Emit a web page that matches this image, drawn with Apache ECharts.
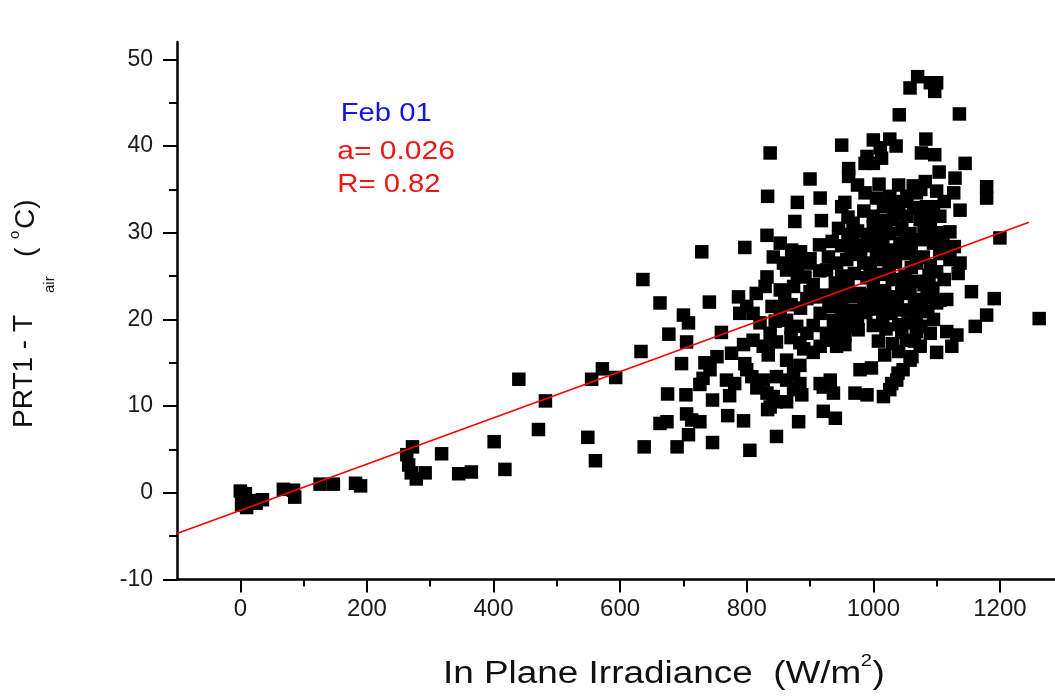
<!DOCTYPE html>
<html><head><meta charset="utf-8">
<script src="https://cdn.jsdelivr.net/npm/echarts@6/dist/echarts.min.js"></script>
<style>html,body{margin:0;padding:0;background:#fff}#c{width:1055px;height:697px}</style>
</head><body><div id="c"></div>
<script>
// ---- data ----
const xMajorTicks = [0, 200, 400, 600, 800, 1000, 1200];
const xMinorTicks = [100, 300, 500, 700, 900, 1100];
const yMajorTicks = [-10, 0, 10, 20, 30, 40, 50];
const yMinorTicks = [-5, 5, 15, 25, 35, 45];
const xTitle = 'In Plane Irradiance  (W/m';
const xTitleSup = '2';
const yTitle = 'PRT1 - T';
const yTitleSub = 'air';
const yUnitSup = 'o';
const annotation = ['Feb 01', 'a= 0.026', 'R= 0.82'];
const fitLine = [[-100, -4.7], [1246, 31.2]];

const lowPoints = [
  [0,0.2],[3,-0.6],[2,-1.4],[8,-0.1],[10,-1.7],[14,-0.9],[25,-1.2],[35,-0.8],
  [68,0.4],[84,0.3],[86,-0.5],[126,1.0],[147,1.0],[182,1.1],[190,0.8],
  [263,4.4],[272,5.3],[266,3.2],[270,2.3],[278,1.6],[292,2.3],[318,4.5],[345,2.2],[365,2.4],
  [401,5.9],[418,2.7],[440,13.1],[482,10.6],[471,7.3],[549,6.4],[561,3.7],[555,13.1],[572,14.3],[593,13.3]
];
const midPoints = [
  [636,24.6],[663,21.9],[741,22.0],[700,20.5],[708,19.6],[677,18.3],[705,17.4],[760,18.5],[633,16.3],[697,14.9],
  [675,11.4],[704,11.3],[746,10.7],[773,11.2],[705,9.1],[726,8.2],[713,8.4],[663,8.0],[674,8.2],[708,6.7],
  [746,5.8],[638,5.3],[690,5.3],[770,8.9],[795,8.3],[805,4.9],[833,9.6],[847,6.5],[882,8.2],[921,9.4],
  [734,15.0],[742,14.2],[731,13.2],[726,12.5],[753,15.7],[768,13.0],[781,12.6],[776,16.1],[795,17.1],[797,14.9],
  [800,14.2],[808,13.4],[816,12.1],[832,11.5],[842,11.1],[834,15.9],[863,15.3],[884,14.7],[874,13.8],[863,13.0],
  [884,12.6],[874,11.9],[847,10.5],[863,10.5],[916,12.6],[932,13.0],[937,11.5],[826,13.0],[847,13.4],[837,9.9],
  [887,11.3],[921,12.2],[940,8.6],[729,27.8],[797,28.3]
];
const upperPoints = [
  [787,22.6],[800,21.5],[789,20.7],[829,23.8],[853,23.4],[874,23.8],[892,24.9],[895,22.4],[810,20.7],[821,19.6],
  [837,18.4],[810,17.6],[826,16.9],[853,21.1],[863,19.9],[879,19.2],[895,18.4],[916,20.7],[937,19.9],[926,18.4],
  [916,16.9],[942,16.9],[884,17.3],[847,17.4],[926,25.7],[863,25.7],[832,24.9],
  [905,24.0],[940,24.2],[925,22.8],[945,22.0],[910,22.6],[840,21.5],[870,21.7],[905,16.2],[815,23.0],[845,19.8],
  [837,39.2],[950,40.1],[900,36.2],[833,34.2],[880,33.5],[916,34.0],[876,31.3],[918,31.4],[832,29.7],
  [853,28.8],[871,28.0],[842,27.2],[858,26.5],[879,26.7],[895,26.5],[929,27.2],[942,26.5],
  [880,25.2],[900,23.2],[885,21.3],[870,19.0],[890,16.6],[930,21.5],[955,20.2],[915,25.6],[905,19.3],[960,24.3],
  [935,17.6],[900,27.0],[885,27.8],[915,28.6],[945,19.0],[870,17.9],[860,22.5],[940,22.8]
];
const highPoints = [
  [1070,48.0],[1058,46.7],[1090,47.3],[1100,47.3],[1097,46.3],[1041,43.6],[1136,43.7],[1000,40.7],[1026,40.8],[1036,40.0],
  [1011,39.8],[1083,40.8],[1076,39.2],[1097,39.0],[990,38.8],[1000,38.0],[1013,38.6],[987,38.0],[961,37.4],[961,36.5],
  [1145,38.0],[1104,37.0],[1129,36.3],[1009,35.6],[1063,35.4],[1082,35.9],[987,34.6],[1179,35.3],[1179,34.0],[1127,34.6],
  [1026,34.2],[1053,34.2],[1068,34.6],[1137,32.6],[1016,33.0],[1037,33.0],[1084,33.0],[1095,33.0],[1105,31.9],[968,31.1],
  [1000,31.9],[1000,30.7],[1121,30.1],[1200,29.4],[968,29.0],[1032,31.5],[1053,31.9],[1074,31.5],[1090,30.7],[1058,29.9],
  [1074,29.2],[1095,28.8],[1042,28.8],[1026,29.9],[1005,27.6],[1016,26.9],[958,26.9],[1105,27.6],[1121,26.9],[1137,26.5],
  [1079,27.2],[1068,26.5],
  [985,32.5],[990,29.8],[1045,30.4],[1064,32.9],[1110,29.5],[1048,27.6],[1090,26.2],[980,27.8],[1020,31.4],[1100,34.8],
  [1040,35.5],[1112,33.6],[1128,28.4],[950,28.5],[995,26.3],[1058,27.9],[1035,26.6],[1085,29.6],
  [955,33.5],[975,35.5],[1005,34.0],[1045,33.6],[1075,35.0],[1090,32.0],[1115,28.0],[1060,28.5],[1030,28.0],[1015,29.0],
  [985,28.5],[975,30.2],[960,31.8],[945,30.5],[935,29.0],[950,33.0],
  [1010,30.0],[1050,29.0],[1080,30.5],[1100,30.0],[1040,32.3],[1020,27.6],[1060,26.0],[1100,25.5],[965,27.5],[1000,29.0],
  [960,29.8],[985,26.5],[1025,25.8]
];
const rightPoints = [
  [1134,25.3],[1155,23.2],[1191,22.4],[1179,20.5],[1161,19.2],[1262,20.1],[1105,22.2],[1100,21.9],[1116,22.3],[1116,18.6],
  [1132,18.2],[1124,16.9],[1100,16.2],[1068,18.6],[1090,18.4],[1074,16.9],[1061,15.7],[1018,15.9],[979,14.2],[997,14.4],
  [1039,13.8],[1029,12.6],[971,11.5],[990,11.3],[1016,11.1],[1058,15.3],[1047,14.2],[1037,13.0],[1026,11.9],[1112,24.6],
  [950,25.0],[970,25.3],[990,24.8],[1010,25.2],[1030,24.6],[1050,25.0],[1070,24.4],[1088,25.1],[958,23.4],[978,23.0],
  [998,22.8],[1018,23.3],[1038,22.6],[1058,23.0],[1078,22.3],[1094,23.6],[950,21.3],[968,21.0],[988,20.8],[1008,21.2],
  [1028,20.7],[1048,21.1],[1068,20.6],[1086,20.9],[958,19.2],[976,18.8],[1000,19.3],[1020,18.9],[1040,19.4],[1052,17.6],
  [1030,17.2],[1008,17.5],[955,17.1],[1040,16.3],
  [1015,20.0],[1035,21.8],[1055,19.6],[1075,19.2],[1095,20.0],[1045,24.0],[1080,24.0],[1025,22.0],[1065,22.0],[985,22.0],
  [965,22.6],[1000,24.0],[1055,24.2],[1085,22.5],[1070,21.5],[1005,22.0],[975,20.0],[955,18.2],[1045,18.5],[1065,17.5]
];
const points = [].concat(lowPoints, midPoints, upperPoints, highPoints, rightPoints);

// ---- chart ----
const FONT = '"Liberation Sans", Arial, sans-serif';
const chart = echarts.init(document.getElementById('c'), null, {renderer: 'canvas'});
const baseX = {type: 'value', min: -100, max: 1287, position: 'bottom', splitLine: {show: false}};
const baseY = {type: 'value', min: -10, max: 52, position: 'left', splitLine: {show: false}};
const plain = v => String(v);
chart.setOption({
  animation: false,
  backgroundColor: '#fff',
  grid: {left: 177, right: 0, top: 42, bottom: 117.5},
  xAxis: [
    Object.assign({}, baseX, {
      axisLine: {show: true, onZero: false, lineStyle: {color: '#000', width: 2.5}},
      axisTick: {show: true, customValues: xMajorTicks, length: 13, lineStyle: {color: '#000', width: 2}},
      axisLabel: {show: true, customValues: xMajorTicks, formatter: plain, margin: 18, fontSize: 24, color: '#1a1a1a', fontFamily: FONT}
    }),
    Object.assign({}, baseX, {
      axisLine: {show: false, onZero: false},
      axisTick: {show: true, customValues: xMinorTicks, length: 7, lineStyle: {color: '#000', width: 2}},
      axisLabel: {show: false}
    })
  ],
  yAxis: [
    Object.assign({}, baseY, {
      axisLine: {show: true, onZero: false, lineStyle: {color: '#000', width: 2.5}},
      axisTick: {show: true, customValues: yMajorTicks, length: 14, lineStyle: {color: '#000', width: 2}},
      axisLabel: {show: true, customValues: yMajorTicks, formatter: plain, margin: 24, fontSize: 23, color: '#1a1a1a', fontFamily: FONT}
    }),
    Object.assign({}, baseY, {
      axisLine: {show: false, onZero: false},
      axisTick: {show: true, customValues: yMinorTicks, length: 8, lineStyle: {color: '#000', width: 2}},
      axisLabel: {show: false}
    })
  ],
  series: [
    {type: 'scatter', xAxisIndex: 0, yAxisIndex: 0, data: points, symbol: 'rect', symbolSize: 13.5,
     itemStyle: {color: '#000', opacity: 1}, silent: true, z: 2},
    {type: 'line', xAxisIndex: 0, yAxisIndex: 0, data: fitLine, showSymbol: false, symbol: 'none',
     lineStyle: {color: '#ff0000', width: 1.6}, silent: true, z: 3}
  ],
  graphic: [
    {type: 'text', x: 340.7, y: 114, scaleX: 1.17,
     style: {text: annotation[0], fill: '#1414f0', font: '25px ' + FONT, align: 'left', verticalAlign: 'middle'}},
    {type: 'text', x: 337.3, y: 152.5, scaleX: 1.2,
     style: {text: annotation[1], fill: '#f01414', font: '25px ' + FONT, align: 'left', verticalAlign: 'middle'}},
    {type: 'text', x: 337.3, y: 184.7, scaleX: 1.17,
     style: {text: annotation[2], fill: '#f01414', font: '25px ' + FONT, align: 'left', verticalAlign: 'middle'}},
    {type: 'group', x: 443, y: 674, scaleX: 1.19, children: [
      {type: 'text', x: 0, y: 0, style: {text: xTitle, fill: '#111', font: '31px ' + FONT, align: 'left', verticalAlign: 'middle'}},
      {type: 'text', x: 351, y: -13, style: {text: xTitleSup, fill: '#111', font: '17px ' + FONT, align: 'left', verticalAlign: 'middle'}},
      {type: 'text', x: 361, y: 0, style: {text: ')', fill: '#111', font: '31px ' + FONT, align: 'left', verticalAlign: 'middle'}}
    ]},
    {type: 'group', x: 24, y: 428, rotation: Math.PI / 2, children: [
      {type: 'text', x: 0, y: 0, style: {text: yTitle, fill: '#111', font: '28px ' + FONT, align: 'left', verticalAlign: 'middle'}},
      {type: 'text', x: 135, y: 26, style: {text: yTitleSub, fill: '#111', font: '15px ' + FONT, align: 'left', verticalAlign: 'middle'}},
      {type: 'text', x: 171, y: 2, style: {text: '(', fill: '#111', font: '28px ' + FONT, align: 'left', verticalAlign: 'middle'}},
      {type: 'text', x: 189, y: -9, style: {text: yUnitSup, fill: '#111', font: '15px ' + FONT, align: 'left', verticalAlign: 'middle'}},
      {type: 'text', x: 199, y: 2, style: {text: 'C)', fill: '#111', font: '28px ' + FONT, align: 'left', verticalAlign: 'middle'}}
    ]}
  ]
});
</script>
</body></html>
